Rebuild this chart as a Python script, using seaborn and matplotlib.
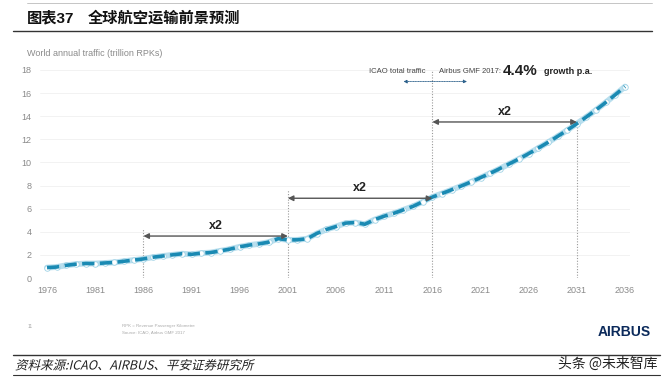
import numpy as np
import pandas as pd
import seaborn as sns
import matplotlib.pyplot as plt
from matplotlib.lines import Line2D
from matplotlib.textpath import TextPath
from matplotlib.font_manager import FontProperties
from matplotlib.patches import PathPatch
from matplotlib.transforms import Affine2D

# World annual traffic, trillion RPKs (ICAO history 1976-2016, Airbus GMF 2017 forecast after)
years = list(range(1976, 2037))
traffic = [0.90, 0.95, 1.10, 1.20, 1.25, 1.25, 1.30, 1.35, 1.45, 1.55,
           1.65, 1.80, 1.90, 2.00, 2.10, 2.05, 2.15, 2.20, 2.35, 2.50,
           2.70, 2.85, 2.95, 3.10, 3.40, 3.30, 3.30, 3.40, 3.85, 4.20,
           4.45, 4.75, 4.80, 4.65, 5.05, 5.35, 5.60, 5.90, 6.20, 6.60,
           7.00, 7.31, 7.63, 7.96, 8.31, 8.68, 9.06, 9.46, 9.88, 10.31,
           10.76, 11.24, 11.73, 12.25, 12.79, 13.35, 13.94, 14.55, 15.19, 15.86,
           16.56]
tick_years = list(range(1976, 2037, 5))
y_ticks = list(range(0, 19, 2))

# doubling spans: (start, end, arrow height)
spans = [(1986, 2001, 3.63), (2001, 2016, 6.9), (2016, 2031, 13.5)]
vlines = [(1986, 4.3), (2001, 7.6), (2016, 18.0), (2031, 13.7)]

df = pd.DataFrame({"year": years, "traffic": traffic})

sns.set_style("white")
plt.rcParams["font.family"] = ["Liberation Sans", "Noto Sans CJK SC", "DejaVu Sans"]

W, H = 672, 385
fig = plt.figure(figsize=(W / 100, H / 100), dpi=100)

# axes placed by pixel: x 40..630, y 66..278
ax = fig.add_axes([40 / W, (H - 278) / H, 590 / W, (278 - 66.5) / H])
ax.set_xlim(1975.27, 2036.52)
ax.set_ylim(0, 18.3)

teal = "#1a8ab3"
grey = "#8a8a8a"

for yv in y_ticks[1:]:
    ax.axhline(yv, color="#f0f0f0", lw=0.6, zorder=0)

sns.lineplot(data=df, x="year", y="traffic", ax=ax, color="#b9dfee", lw=4.2,
             marker="o", markersize=4, markerfacecolor="white",
             markeredgecolor="#9fd2e6", markeredgewidth=0.6, zorder=2)
sns.lineplot(data=df, x="year", y="traffic", ax=ax, color=teal, lw=2.6,
             linestyle=(0, (3.4, 1.5)), zorder=3)

for x, top in vlines:
    ax.plot([x, x], [0, top], color="#9a9a9a", lw=0.8, ls=(0, (1, 1.5)), zorder=1)

for x0, x1, yv in spans:
    ax.annotate("", xy=(x0, yv), xytext=(x1, yv),
                arrowprops=dict(arrowstyle="<|-|>", color="#555555", lw=1.0,
                                mutation_scale=8, shrinkA=0, shrinkB=0), zorder=4)
    ax.text((x0 + x1) / 2, yv + 0.35, "x2", ha="center", va="bottom",
            fontsize=9, fontweight="bold", color="#222222")

# ICAO / Airbus split label
ax.text(2015.3, 17.9, "ICAO total traffic", ha="right", va="center", fontsize=5.5, color="#444444")
ax.text(2016.7, 17.9, "Airbus GMF 2017:", ha="left", va="center", fontsize=5.5, color="#444444")
ax.text(2023.3, 17.95, "4.4%", ha="left", va="center", fontsize=11, fontweight="bold", color="#222222")
ax.text(2027.6, 17.9, "growth p.a.", ha="left", va="center", fontsize=6.5, fontweight="bold", color="#222222")
for x_end in (2013.0, 2019.6):
    ax.annotate("", xy=(x_end, 17.0), xytext=(2016, 17.0),
                arrowprops=dict(arrowstyle="-|>", color="#2a5f8a", lw=0.6, ls=(0, (1, 1)),
                                mutation_scale=5, shrinkA=0, shrinkB=0))

ax.set_xticks(tick_years)
ax.set_xticklabels([str(t) for t in tick_years])
ax.set_yticks(y_ticks)
ax.tick_params(axis="both", labelsize=6.5, colors=grey, length=0, pad=6)
ax.set_xlabel("")
ax.set_ylabel("")
sns.despine(ax=ax, left=True, bottom=True)

# page chrome
fig.add_artist(Line2D([27 / W, 652 / W], [1 - 3 / H, 1 - 3 / H], color="#bbbbbb", lw=0.6))
fig.text(27 / W, 1 - 18 / H, "图表37", fontsize=11, fontweight="bold", color="#111111",
         va="center", family=["Liberation Sans", "Noto Sans CJK SC"])
fig.text(88 / W, 1 - 18 / H, "全球航空运输前景预测", fontsize=11, fontweight="bold", color="#111111",
         va="center", family=["Noto Sans CJK SC"])
fig.add_artist(Line2D([13 / W, 652 / W], [1 - 31 / H, 1 - 31 / H], color="#333333", lw=1.0))
fig.text(27 / W, 1 - 53 / H, "World annual traffic (trillion RPKs)", fontsize=6.5, color=grey, va="center")

fig.text(28 / W, 1 - 327 / H, "11", fontsize=3.5, color="#aaaaaa", va="center")
fig.text(122 / W, 1 - 326 / H, "RPK = Revenue Passenger Kilometre", fontsize=3.2, color="#aaaaaa", va="center")
fig.text(122 / W, 1 - 333 / H, "Source: ICAO, Airbus GMF 2017", fontsize=3.2, color="#aaaaaa", va="center")
fig.text(651 / W, 1 - 332 / H, "AIRBUS", fontsize=10, fontweight="bold", color="#0b2a5b",
         ha="right", va="center")

fig.add_artist(Line2D([13 / W, 660 / W], [1 - 355 / H, 1 - 355 / H], color="#333333", lw=1.0))

# slanted source note (CJK font has no italic face, so shear the glyph path)
src_path = TextPath((0, 0), "资料来源:ICAO、AIRBUS、平安证券研究所", size=12.5,
                    prop=FontProperties(family="Noto Sans CJK SC"))
src_trans = Affine2D().skew_deg(14, 0).translate(15, H - 369.5)
fig.add_artist(PathPatch(src_path, transform=src_trans, facecolor="#222222", edgecolor="none"))

fig.text(658 / W, 1 - 364 / H, "头条 @未来智库", fontsize=10, color="#222222", ha="right",
         va="center", family=["Noto Sans CJK SC", "DejaVu Sans"])
fig.add_artist(Line2D([13 / W, 660 / W], [1 - 375 / H, 1 - 375 / H], color="#333333", lw=0.8))

fig.savefig("out.png", dpi=100)
